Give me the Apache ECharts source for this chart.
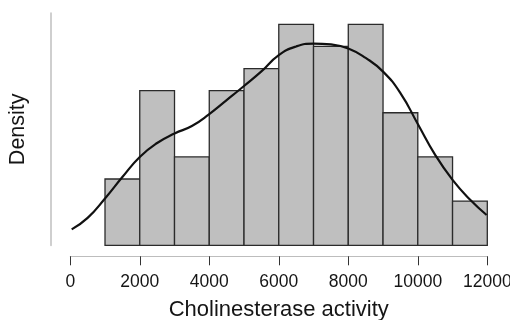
<!DOCTYPE html>
<html>
<head>
<meta charset="utf-8">
<script src="https://cdn.jsdelivr.net/npm/echarts@6/dist/echarts.min.js"></script>
<style>
  html, body { margin: 0; padding: 0; background: #fff; }
  #chart { width: 510px; height: 320px; }
</style>
</head>
<body>
<div id="chart"></div>
<script>
// histogram bins (left edge of each bin, width 1000)
var binStarts = [1000, 2000, 3000, 4000, 5000, 6000, 7000, 8000, 9000, 10000, 11000];
var binCounts = [3, 7, 4, 7, 8, 10, 9, 10, 6, 4, 2];
var binWidth = 1000;

// density curve, drawn on the histogram's count scale
var curveX = [41, 500, 1000, 1500, 2000, 2500, 3000, 3500, 4000, 4500, 5000, 5500, 6000,
              6500, 7000, 7500, 8000, 8500, 9000, 9500, 10000, 10500, 11000, 11500, 11980];
var curveY = [0.72, 1.24, 2.12, 3.09, 4.00, 4.63, 5.06, 5.40, 5.94, 6.57, 7.21, 7.87, 8.61,
              9.00, 9.13, 9.09, 8.91, 8.48, 7.86, 6.89, 5.49, 4.09, 2.96, 2.07, 1.37];

var xTicks = [0, 2000, 4000, 6000, 8000, 10000, 12000];

var FONT = 'Liberation Sans, Arial, sans-serif';

var histData = [];
for (var i = 0; i < binStarts.length; i++) {
  histData.push([binStarts[i], binStarts[i] + binWidth, binCounts[i]]);
}
var curveData = [];
for (var j = 0; j < curveX.length; j++) {
  curveData.push([curveX[j], curveY[j]]);
}

var myChart = echarts.init(document.getElementById('chart'), null, { renderer: 'canvas' });

var option = {
  animation: false,
  backgroundColor: '#fff',
  grid: { left: 70.25, right: 22.7, top: 13.3, bottom: 74.7, containLabel: false, outerBoundsMode: 'none' },
  xAxis: {
    type: 'value',
    min: xTicks[0],
    max: xTicks[xTicks.length - 1],
    interval: 2000,
    offset: 11,
    name: 'Cholinesterase activity',
    nameLocation: 'middle',
    nameGap: 43,
    nameTextStyle: { fontFamily: FONT, fontSize: 22, color: '#151515' },
    axisLine: { show: true, onZero: false, lineStyle: { color: '#bdbdbd', width: 1 } },
    axisTick: { show: true, length: 9, lineStyle: { color: '#333', width: 1 } },
    axisLabel: {
      fontFamily: FONT, fontSize: 17.5, color: '#151515', margin: 17,
      showMaxLabel: true, showMinLabel: true, hideOverlap: false,
      formatter: function (v) { return String(v); }
    },
    splitLine: { show: false }
  },
  yAxis: {
    type: 'value',
    min: 0,
    max: 10.5,
    offset: 20,
    name: 'Density',
    nameLocation: 'middle',
    nameGap: 21,
    nameTextStyle: { fontFamily: FONT, fontSize: 21.5, color: '#151515' },
    axisLine: { show: true, onZero: false, lineStyle: { color: '#cfcfcf', width: 2 } },
    axisTick: { show: false },
    axisLabel: { show: false },
    splitLine: { show: false }
  },
  series: [
    {
      type: 'custom',
      data: histData,
      encode: { x: [0, 1], y: 2 },
      renderItem: function (params, api) {
        var p0 = api.coord([api.value(0), 0]);
        var p1 = api.coord([api.value(1), api.value(2)]);
        return {
          type: 'rect',
          shape: { x: p0[0], y: p1[1], width: p1[0] - p0[0], height: p0[1] - p1[1] },
          style: { fill: '#bfbfbf', stroke: '#2b2b2b', lineWidth: 1.3 }
        };
      },
      z: 2
    },
    {
      type: 'line',
      data: curveData,
      smooth: true,
      showSymbol: false,
      lineStyle: { color: '#111', width: 2.2 },
      z: 3
    }
  ]
};

myChart.setOption(option);
</script>
</body>
</html>
